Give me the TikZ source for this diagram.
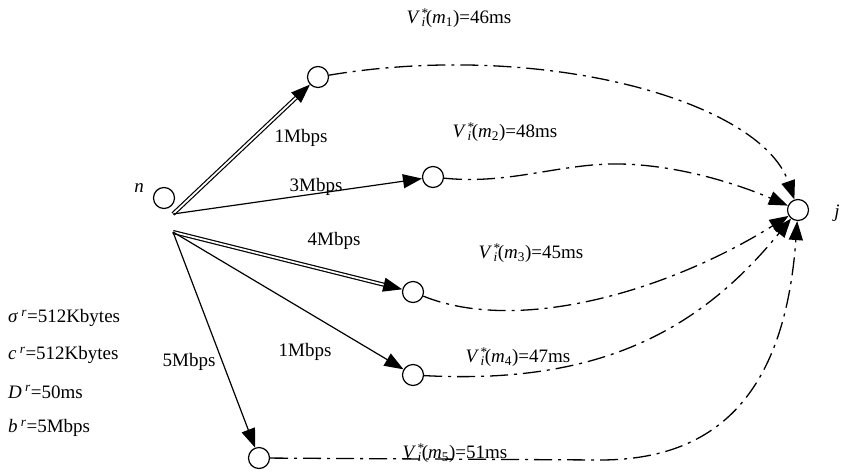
\documentclass[tikz,border=0pt]{standalone}
\usepackage{fontspec}
\setmainfont{Liberation Serif}
\usetikzlibrary{arrows.meta}
\newcommand{\vlab}[2]{\textit{V}\kern1.5pt\rlap{\textsuperscript{*}}\textsubscript{\textit{i}}(\textit{m}\textsubscript{#1})=#2ms}
\newcommand{\plab}[1]{\textit{#1}\,\textsuperscript{\textit{r}}}
\begin{document}
\begin{tikzpicture}[x=1pt,y=1pt,
  vert/.style={circle,draw,line width=1.2pt,minimum size=21pt,inner sep=0pt,fill=white},
  lab/.style={inner sep=0pt,font=\fontsize{19}{22}\selectfont},
  tip/.style={-{Triangle[length=19pt,width=14pt]}},
  single/.style={line width=1.2pt,tip},
  dbl/.style={line width=1.2pt,double,double distance=1.8pt,tip},
  flow/.style={line width=1.3pt,dash pattern=on 18pt off 6pt on 3pt off 6pt,tip}]
\useasboundingbox (0,0) rectangle (842,-471);
% vertices
\node[vert] (n) at (164,-198) {};
\node[vert] (m1) at (318,-77) {};
\node[vert] (m2) at (433,-177) {};
\node[vert] (m3) at (413,-292) {};
\node[vert] (m4) at (413,-375) {};
\node[vert] (m5) at (259,-458) {};
\node[vert] (j) at (798,-210) {};
\coordinate (s1) at (173,-214);
\coordinate (s2) at (173,-232);
\coordinate (p2) at (620,-164);
\coordinate (q5) at (600,-460);
% links from n
\draw[dbl] (s1) -- (m1);
\draw[single] (s1) -- (m2);
\draw[dbl] (s2) -- (m3);
\draw[single] (s2) -- (m4);
\draw[single] (s2) -- (m5);
% flows to j
\draw[flow] (m1) .. controls (540,-40) and (760,-100) .. (j);
\draw[flow] (m2) .. controls (510,-185) and (560,-163) .. (p2) .. controls (680,-165) and (740,-185) .. (j);
\draw[flow] (m3) .. controls (520,-335) and (670,-290) .. (j);
\draw[flow] (m4) .. controls (600,-385) and (700,-330) .. (j);
\draw[flow] (m5) -- (q5) .. controls (720,-460) and (785,-390) .. (j);
% labels
\node[lab] (ln) at (139,-188) {\textit{n}};
\node[lab] (lj) at (837,-213) {\textit{j}};
\node[lab] (b1) at (301,-138) {1Mbps};
\node[lab] (b2) at (316,-187) {3Mbps};
\node[lab] (b3) at (334,-241) {4Mbps};
\node[lab] (b4) at (305,-352) {1Mbps};
\node[lab] (b5) at (189,-362) {5Mbps};
\node[lab] (v1) at (459,-18) {\vlab{1}{46}};
\node[lab] (v2) at (505,-132) {\vlab{2}{48}};
\node[lab] (v3) at (531,-253) {\vlab{3}{45}};
\node[lab] (v4) at (518,-357) {\vlab{4}{47}};
\node[lab] (v5) at (455,-453) {\vlab{5}{51}};
\node[lab,anchor=west] (r1) at (8,-318) {\plab{σ}=512Kbytes};
\node[lab,anchor=west] (r2) at (8,-355) {\plab{c}=512Kbytes};
\node[lab,anchor=west] (r3) at (8,-392) {\plab{D}=50ms};
\node[lab,anchor=west] (r4) at (8,-428) {\plab{b}=5Mbps};
\end{tikzpicture}
\end{document}
